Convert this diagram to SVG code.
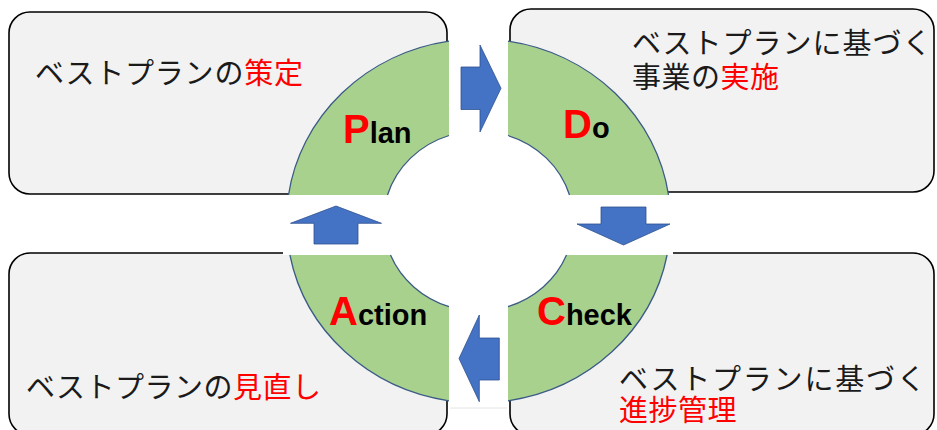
<svg xmlns="http://www.w3.org/2000/svg" width="937" height="430" viewBox="0 0 937 430">
<defs>
<style>
.box{fill:#F2F2F2;stroke:#000;stroke-width:1.6}
.band{fill:#FFFFFF}
.seg{fill:#A9D18E;stroke:none}
.arc{fill:none;stroke:#3B5B86;stroke-width:1.3}
.arrow{fill:#4472C4;stroke:#2F528F;stroke-width:0.8;stroke-linejoin:miter}
.jp{font-family:"Noto Sans CJK JP","Noto Sans CJK SC",sans-serif;font-size:29px;fill:#1a1a1a}
.red{fill:#FF0000}
.lbl{font-family:"Liberation Sans",Arial,sans-serif;font-weight:bold;font-size:29px;fill:#000}
.cap{font-size:40px;fill:#FF0000}
</style>
</defs>
<rect width="937" height="430" fill="#FFFFFF"/>

<g id="box-plan">
<rect class="box" x="9" y="12" width="438" height="182" rx="21"/>
<text class="jp" x="35" y="84" letter-spacing="0.8">ベストプランの<tspan class="red">策定</tspan></text>
</g>
<g id="box-do">
<rect class="box" x="510" y="9" width="424" height="183" rx="21"/>
<text class="jp" x="632" y="54" letter-spacing="1">ベストプランに基づく</text>
<text class="jp" x="632" y="88" letter-spacing="0.5">事業の<tspan class="red">実施</tspan></text>
</g>
<g id="box-action">
<rect class="box" x="9" y="253" width="438" height="182" rx="21"/>
<text class="jp" x="26" y="398" letter-spacing="0.5">ベストプランの<tspan class="red">見直し</tspan></text>
</g>
<g id="box-check">
<rect class="box" x="510" y="253" width="424" height="182" rx="21"/>
<text class="jp" x="619" y="390" letter-spacing="1.8">ベストプランに基づく</text>
<text class="jp red" x="619" y="421" letter-spacing="0.5">進捗管理</text>
</g>

<g id="bands">
<ellipse class="band" cx="478.5" cy="221" rx="95" ry="90"/>
<rect class="band" x="449" y="30" width="59" height="378"/>
<rect class="band" x="283" y="195" width="390" height="60"/>
<line x1="450" y1="408" x2="507" y2="408" stroke="#E4E4E4" stroke-width="1"/>
</g>

<g id="plan">
<path class="seg" d="M449,41.2 A192,182 0 0 0 288.5,195 L387.5,195 A95,90 0 0 1 449,135.5 Z"/>
<path class="arc" d="M449,41.2 A192,182 0 0 0 288.5,195 M387.5,195 A95,90 0 0 1 449,135.5"/>
<text class="lbl" x="343" y="143"><tspan class="cap">P</tspan>lan</text>
</g>
<g id="do">
<path class="seg" d="M508,41.2 A192,182 0 0 1 668.5,195 L569.5,195 A95,90 0 0 0 508,135.5 Z"/>
<path class="arc" d="M508,41.2 A192,182 0 0 1 668.5,195 M569.5,195 A95,90 0 0 0 508,135.5"/>
<text class="lbl" x="563" y="138"><tspan class="cap">D</tspan>o</text>
</g>
<g id="check">
<path class="seg" d="M667.1,255 A192,182 0 0 1 508,400.8 L508,306.6 A95,90 0 0 0 566.5,255 Z"/>
<path class="arc" d="M667.1,255 A192,182 0 0 1 508,400.8 M508,306.6 A95,90 0 0 0 566.5,255"/>
<text class="lbl" x="537" y="325"><tspan class="cap">C</tspan>heck</text>
</g>
<g id="action">
<path class="seg" d="M449,400.8 A192,182 0 0 1 289.9,255 L390.5,255 A95,90 0 0 0 449,306.6 Z"/>
<path class="arc" d="M449,400.8 A192,182 0 0 1 289.9,255 M390.5,255 A95,90 0 0 0 449,306.6"/>
<text class="lbl" x="329" y="325"><tspan class="cap">A</tspan>ction</text>
</g>

<g id="connectors">
<polygon class="arrow" points="461,67 480,67 480,45 501,88.3 480,132 480,109.5 461,109.5"/>
<polygon class="arrow" points="601,207 646,207 646,224 670,224 623.5,245 577,224 601,224"/>
<polygon class="arrow" points="499.3,338 479.3,338 479.3,315 459,358.5 479.3,401.7 479.3,380 499.3,380"/>
<polygon class="arrow" points="314,244 358,244 358,223.3 381.5,223.3 336,206 290.5,223.3 314,223.3"/>
</g>
</svg>
